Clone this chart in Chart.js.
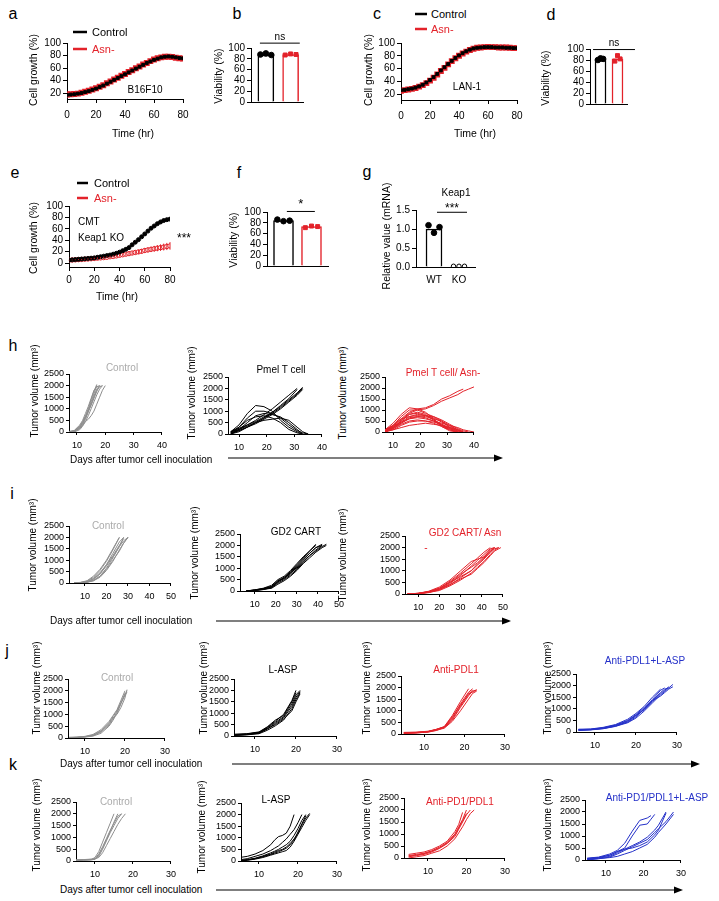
<!DOCTYPE html>
<html><head><meta charset="utf-8">
<script src="https://cdn.jsdelivr.net/npm/chart.js@4.4.1/dist/chart.umd.min.js"></script>
<style>
html,body{margin:0;padding:0;background:#fff;}
body{width:719px;height:901px;position:relative;overflow:hidden;font-family:"Liberation Sans",Arial,sans-serif;}
canvas{position:absolute;}
.t{position:absolute;white-space:nowrap;line-height:1;}
svg{position:absolute;left:0;top:0;}
</style></head><body>
<svg width="719" height="901" id="arr"></svg>
<script>
// ---------------- DATA ----------------
const hours = [0,2.5,5,7.5,10,12.5,15,17.5,20,22.5,25,27.5,30,32.5,35,37.5,40,42.5,45,47.5,50,52.5,55,57.5,60,62.5,65,67.5,70,72.5,75,77.5,80];
const growthA_ctrl = [17,17.5,18,19,20,21.5,23,25,27,29.5,32,35,38,41,44,47,50,53,56,59,62,65,68,70.5,73,75,77,78,78.5,78,77,76,75.5];
const growthA_asn  = [17.5,18,18.5,19,20.5,22,23.5,25.5,27.5,30,32.5,35.5,38.5,41.5,44.5,47.5,50.5,53.5,56.5,59.5,62.5,65.5,68,71,73.5,75.5,77,78,78,77.5,76.5,75.5,75];
const growthC_ctrl = [26,26.5,27.5,28.5,30,32,34.5,38,42,46.5,51.5,57,62,67,72,76.5,80.5,84,87,89.5,91.5,92.5,93,93.5,93.5,93.5,93,93,93,92.5,92.5,92,92];
const growthC_asn  = [25,26,27,28,29.5,31.5,34,37,41,45.5,50.5,56,61,66.5,71.5,76,80,83.5,86.5,89,91,92.5,93,93.5,94,93.5,93.5,93,93,93,92.5,92,92];
const growthE_ctrl = [5,5.5,6,6.5,7,7.5,8,8.5,9,10,11,12,13,14,15.5,17,19,21.5,24,27,32,36.5,41,46,51,56,61,65,69,72,74.5,76,77];
const growthE_asn  = [5,5.3,5.6,6,6.3,6.7,7,7.5,8,8.5,9,9.5,10,11,11.5,12.5,13.5,14.5,15.5,16.5,17.5,18.5,19.5,20.5,22,23,24,25,26,27,28,29,30];
const growthE_asnSD= [0.5,0.5,0.6,0.7,0.8,0.9,1,1.1,1.2,1.3,1.4,1.5,1.6,1.8,2,2.2,2.4,2.6,2.8,3,3.2,3.4,3.6,3.9,4.2,4.5,4.8,5.1,5.4,5.7,6,6.3,6.6];
const growthTicksX = [0,20,40,60,80];
const growthTicksY_ac = [20,40,60,80,100];
const growthTicksY_e = [0,20,40,60,80,100];

const groups = ['Control','Asn-'];
const viabB = [87, 88];   const viabB_ctrlDots = [88, 90, 87]; const viabB_asnDots = [87, 89, 88];
const viabD = [81, 82];   const viabD_ctrlDots = [80, 83, 82]; const viabD_asnDots = [78, 88, 82];
const viabF = [84, 73];   const viabF_ctrlDots = [86, 83, 84]; const viabF_asnDots = [71, 74, 73];
const viabTicks = [0,20,40,60,80,100];
const keapCats = ['WT','KO'];
const keap1 = [1.0, 0.01]; const keap1_wtDots = [1.1, 0.9, 1.05]; const keap1_koDots = [0.02, 0.02, 0.02];
const keapTicks = [0,0.5,1,1.5];
const jitter = [-0.22, 0, 0.22];
const volTicks = [0,500,1000,1500,2000,2500];
const dayTicks40 = [10,20,30,40];
const dayTicks50 = [10,20,30,40,50];
const dayTicks30 = [10,20,30];

// tumour growth, panel h
const hCtrlDays = [7,9,11,12,13,14,15,16,17,18,19,20];
const hCtrl = [
 [0,50,250,450,700,1000,1400,1750,2050],
 [0,30,200,400,650,950,1300,1650,2000],
 [20,60,300,500,800,1100,1450,1800,1950,2000],
 [0,20,150,300,550,850,1200,1550,1850,2000],
 [0,40,200,350,600,900,1200,1500,1800,1950,2000],
 [10,50,250,400,650,900,1150,1450,1750,2000],
 [0,0,100,250,450,700,1000,1300,1600,1850,2000],
 [0,30,150,300,450,550,700,900,1200,1500,1800,2000]];
const hPmelDays = [7,10,13,16,19,22,25,28,31,33,35];
const hPmel = [
 [100,250,400,550,750,950,1200,1500,1800,2050],
 [50,150,300,500,700,900,1150,1450,1750,2000],
 [100,200,350,500,700,950,1250,1550,1950],
 [0,150,300,450,650,850,1100,1400,1700,1950],
 [50,200,400,600,850,1100,1400,1700,2000],
 [100,400,900,1250,1200,1000,600,300,100,0],
 [50,300,700,1000,1000,900,700,400,150,50,0],
 [0,200,500,800,900,850,750,500,200,0],
 [100,300,600,750,800,700,500,200,50,0],
 [0,100,300,500,600,650,700,600,300,100,0]];
const hAsnDays = [7,10,13,16,19,22,25,28,31,34,36,38,40];
const hAsn = [
 [100,300,600,900,1050,1100,1250,1500,1650,1850,1950],
 [50,250,550,850,1000,1050,1200,1400,1550,1700,1850,1950,2050],
 [100,400,800,1100,1050,900,600,300,100,0],
 [50,300,700,1000,1000,850,700,500,200,50,0],
 [0,200,500,800,850,750,550,350,150,0],
 [100,300,600,700,750,700,600,500,300,100,0],
 [50,200,400,600,700,750,700,550,350,150,50,0],
 [0,150,350,500,550,500,400,250,100,0],
 [100,250,450,600,650,600,500,400,300,200,100,50,0],
 [0,100,300,450,500,500,450,350,200,50,0],
 [50,200,500,800,900,800,550,250,50,0],
 [0,150,400,650,700,650,500,300,150,50,0],
 [50,100,200,300,350,400,350,300,200,100,0],
 [0,200,450,700,800,750,650,450,250,100,0]];

// panel i
const iCtrlDays = [5,8,11,14,17,20,23,26,28,30];
const iCtrl = [
 [0,20,80,250,550,950,1450,2000],
 [0,30,100,300,600,1000,1500,2000],
 [0,10,50,150,400,800,1300,1800,2000],
 [0,10,40,120,300,650,1100,1600,1850,2000],
 [0,20,60,200,450,800,1200,1650,1950],
 [0,0,30,100,250,550,950,1450,1750,2000],
 [0,10,50,180,400,750,1150,1600,2000],
 [0,5,40,100,300,600,1000,1400,1750,2000]];
const iGdDays = [6,10,14,18,21,24,27,30,33,36,39,42,44];
const iGd = [
 [0,50,100,200,450,600,850,1150,1450,1750,2050],
 [0,30,80,150,400,550,800,1100,1400,1650,1900,2050],
 [0,50,120,250,500,650,900,1200,1500,1750,2000],
 [0,20,60,150,350,500,700,950,1250,1550,1800,2000],
 [0,40,100,200,400,600,800,1000,1300,1550,1750,1950,2050],
 [0,30,90,180,450,550,750,1050,1350,1650,1900,2000],
 [0,20,70,120,300,450,650,900,1200,1450,1700,1900,2000]];
const iAsnDays = [5,10,15,20,25,30,35,38,41,44,46,48,49];
const iAsn = [
 [0,30,100,250,550,900,1300,1550,1800,2000],
 [0,20,80,200,450,800,1200,1450,1700,1950,2000],
 [0,30,120,300,600,1000,1400,1500,1600,1900,2000],
 [0,10,60,180,400,700,1000,1300,1550,1800,2000],
 [0,20,90,220,500,850,1150,1350,1600,1850,1950,2000],
 [0,10,70,150,350,600,900,1150,1400,1700,1900,2000],
 [0,30,100,250,500,750,1000,1250,1500,1800,2000],
 [0,20,80,200,400,650,850,1100,1350,1650,1850,1950,2000]];

// panel j
const jCtrlDays = [6,8,10,12,14,16,17,18,19,20,20.5];
const jCtrl = [
 [20,30,50,100,250,550,800,1100,1500,1900],
 [10,20,40,80,200,500,750,1050,1450,1850,2000],
 [0,20,50,120,300,650,900,1150,1500,1800,1950],
 [30,40,60,110,280,600,850,1000,1300,1700,2050],
 [10,30,70,150,350,700,950,1200,1600,2000]];
const jLaspDays = [5,8,11,13,15,17,19,20,21];
const jLasp = [
 [50,80,150,350,600,850,1400,1800,2000],
 [30,60,120,300,550,800,1300,1700,1950],
 [80,100,180,400,700,900,1500,1900],
 [20,50,100,250,450,700,1200,1600,1900],
 [60,90,160,380,650,950,1550,2000],
 [40,70,140,320,500,750,1100,1500,1850]];
const jPdDays = [5,8,11,13,15,17,19,21,22,23];
const jPd = [
 [50,60,100,200,300,700,1300,1800,1950],
 [30,50,80,150,280,600,1150,1650,1850,1900],
 [70,80,120,200,320,800,1400,1950],
 [20,40,90,160,250,550,1000,1500,1750,1850],
 [60,70,110,190,310,750,1250,1700,1900],
 [40,60,100,180,290,650,1200,1750,1800,1900]];
const jComboDays = [6,9,12,15,18,20,22,24,26,27,28,29];
const jCombo = [
 [100,120,180,300,500,750,1050,1400,1800,1900],
 [80,100,150,250,450,700,1000,1350,1700,1850,1900],
 [120,130,200,320,550,800,1100,1500,1850],
 [60,90,140,240,400,600,900,1250,1600,1750,1900,2050],
 [90,110,170,280,480,720,950,1300,1650,1800,1950],
 [100,100,160,260,420,650,1000,1350,1550,1700,1850,1950]];

// panel k
const kCtrlDays = [5,7,9,10,11,12,13,14,15,16,17,18];
const kCtrl = [
 [30,50,60,150,400,800,1200,1600,2000],
 [50,60,80,100,300,600,950,1300,1600,1900,2000],
 [20,40,50,80,200,500,850,1200,1500,1800,2000],
 [40,50,70,90,150,350,650,950,1250,1550,1800,2000],
 [10,30,50,70,250,550,900,1250,1650,2000]];
const kLaspDays = [5,7,9,11,13,14,15,16,17,18,19,20,21,22,23];
const kLasp = [
 [150,200,300,450,700,900,1050,1100,1200,1500,2000],
 [50,100,200,300,450,550,650,800,950,1150,1350,1650,2000],
 [0,50,100,200,300,380,450,500,600,750,950,1200,1550,1850,2050],
 [20,60,120,220,350,420,500,600,700,850,1100,1400,1750,2000],
 [0,30,80,150,250,300,350,400,450,600,850,1150,1450,1750,2000],
 [10,40,100,180,280,340,400,470,550,700,900,1250,1600,1950]];
const kPdDays = [5,7,9,11,13,15,17,18,19,20,21,22];
const kPd = [
 [100,150,200,300,450,650,1000,1300,1600,2000],
 [50,100,150,250,400,600,900,1200,1500,1800,2000],
 [150,200,250,350,500,700,1100,1400,1900],
 [0,50,100,200,300,500,800,1050,1300,1600,1850,2000],
 [80,120,180,280,420,620,950,1250,1550,1850]];
const kComboDays = [5,8,11,13,15,17,19,21,22,23,24,26,28];
const kCombo = [
 [50,100,200,350,500,1000,1450,1500,1700,1900],
 [80,120,250,400,700,1200,1650,1750,1850],
 [30,80,150,300,450,600,750,950,1100,1250,1450,2000],
 [0,50,120,250,400,550,700,850,1000,1150,1300,1600,2000],
 [60,100,200,350,450,500,600,750,900,1050,1250,1950],
 [20,60,100,150,250,350,500,650,800,950,1150,1500,1900]];

// ---------------- HELPERS ----------------
const FONT = '"Liberation Sans", Arial, Helvetica, sans-serif';
Chart.defaults.font.family = FONT;
Chart.defaults.color = '#000';
const RED = '#e3222a', BLUE = '#2430c8', GRAY = '#8e8e8e', GRAYT = '#ababab';
const extras = new Map();

Chart.register({id:'extraDraw', afterDatasetsDraw(ch){
  const e = extras.get(ch.canvas); if(!e) return;
  const ctx = ch.ctx, xs = ch.scales.x, ys = ch.scales.y;
  ctx.save();
  if(e.err){
    ctx.strokeStyle = e.err.color; ctx.lineWidth = 1;
    e.err.x.forEach((xv,i)=>{
      const px = xs.getPixelForValue(xv);
      ctx.beginPath(); ctx.moveTo(px, ys.getPixelForValue(e.err.y[i]-e.err.sd[i])); ctx.lineTo(px, ys.getPixelForValue(e.err.y[i]+e.err.sd[i])); ctx.stroke();
    });
  }
  if(e.sig){
    const s = e.sig, y = ys.getPixelForValue(s.y), a = xs.getPixelForValue(s.x0), b = xs.getPixelForValue(s.x1);
    ctx.strokeStyle = '#000'; ctx.lineWidth = 1;
    ctx.beginPath(); ctx.moveTo(a, y); ctx.lineTo(b, y); ctx.stroke();
    ctx.fillStyle = '#000'; ctx.font = s.size + 'px ' + FONT; ctx.textAlign = 'center'; ctx.textBaseline = 'bottom';
    ctx.fillText(s.text, (a+b)/2, y - (s.gap||1));
  }
  ctx.restore();
}});

function pts(xs, ys){ const o=[]; for(let i=0;i<ys.length;i++){ if(ys[i]!=null) o.push({x:xs[i], y:ys[i]}); } return o; }

function ax(min,max,at,o){
  o = o||{};
  const a = {type:'linear', min, max, offset:false,
    border:{display:true,color:'#000',width:1},
    grid:{display:!o.noTicks, drawOnChartArea:false, drawTicks:true, tickLength:o.tl||3, color:'#000', lineWidth:1},
    ticks:{display:!o.noLabels, font:{size:o.fs||9}, color:'#000', padding:(o.pad!=null?o.pad:2), autoSkip:false, maxRotation:0, minRotation:0,
      callback: o.cb || ((v)=>String(v))},
    afterBuildTicks:s=>{ s.ticks = at.map(v=>({value:v})); }};
  return a;
}

function mk(rect, m, type, datasets, sx, sy, extra){
  const [x0,y0,x1,y1] = rect;
  const c = document.createElement('canvas');
  const w = x1-x0+m.l+m.r, h = y1-y0+m.t+m.b;
  c.width = w; c.height = h;
  Object.assign(c.style,{left:(x0-m.l)+'px', top:(y0-m.t)+'px', width:w+'px', height:h+'px'});
  document.body.appendChild(c);
  if(extra) extras.set(c, extra);
  sx.position='bottom'; sy.position='left';
  sx.afterFit = s=>{ s.height = m.b; };
  sy.afterFit = s=>{ s.width = m.l; };
  return new Chart(c, {type, data:{datasets}, options:{responsive:false, maintainAspectRatio:false, animation:false, devicePixelRatio:1,
    layout:{padding:{left:0, top:m.t, right:m.r, bottom:0}}, scales:{x:sx, y:sy},
    plugins:{legend:{display:false}, tooltip:{enabled:false}}}});
}

function txt(s,x,y,size,color,rot,anchor,extraCss){
  const d = document.createElement('div'); d.className='t'; d.textContent = s;
  d.style.fontSize = size+'px'; d.style.color = color||'#000';
  d.style.left = x+'px'; d.style.top = y+'px';
  let tr = anchor==='l' ? 'translate(0,-50%)' : 'translate(-50%,-50%)';
  if(rot) tr += ' rotate(-90deg)';
  d.style.transform = tr;
  if(extraCss) d.style.cssText += extraCss;
  document.body.appendChild(d);
}
const svg = document.getElementById('arr');
function arrow(x0,x1,y){ svg.insertAdjacentHTML('beforeend', `<line x1="${x0}" y1="${y}" x2="${x1-6}" y2="${y}" stroke="#000" stroke-width="1.2"/><polygon points="${x1},${y} ${x1-9},${y-3.5} ${x1-9},${y+3.5}" fill="#000"/>`); }
function legLine(x0,x1,y,color){ svg.insertAdjacentHTML('beforeend', `<line x1="${x0}" y1="${y}" x2="${x1}" y2="${y}" stroke="${color}" stroke-width="2.5"/>`); }

// ---------------- GROWTH CURVES ----------------
function growth(rect, ymin, ctrl, asn, style, yTicks){
  const ds = [];
  if(style==='e'){
    ds.push({type:'line', data:pts(hours,ctrl), borderColor:'#000', borderWidth:1, pointRadius:2, pointStyle:'circle', pointBackgroundColor:'#000', pointBorderColor:'#000', order:1});
    ds.push({type:'line', data:pts(hours,asn), borderColor:RED, borderWidth:1, pointRadius:2.2, pointStyle:'circle', pointBackgroundColor:'#fff', pointBorderColor:RED, pointBorderWidth:1, order:2});
  } else {
    ds.push({type:'line', data:pts(hours,ctrl), borderColor:'#000', borderWidth:1, pointRadius:2, pointStyle:'rect', pointBackgroundColor:'#000', pointBorderColor:'#000', order:1});
    ds.push({type:'line', data:pts(hours,asn), borderColor:RED, borderWidth:2.2, pointRadius:2.6, pointStyle:'rect', pointBackgroundColor:RED, pointBorderColor:RED, order:2});
  }
  const extra = style==='e' ? {err:{x:hours, y:asn, sd:growthE_asnSD, color:RED}} : null;
  return mk(rect, {l:40,t:10,r:12,b:30}, 'line', ds,
    ax(0,80,growthTicksX,{fs:10,tl:4,pad:style==='e'?3:6}), ax(ymin,100,yTicks,{fs:10,tl:4}), extra);
}
growth([67,43,183,99], 10.4, growthA_ctrl, growthA_asn, 'a', growthTicksY_ac);
growth([401,43,517,100], 10.6, growthC_ctrl, growthC_asn, 'c', growthTicksY_ac);
growth([69,206,170,267], -7, growthE_ctrl, growthE_asn, 'e', growthTicksY_e);

// ---------------- BARS ----------------
function bars(rect, xmin, xmax, ymax, yTicks, vals, d0, d1, thick, sig, o){
  o = o||{};
  const ds = [
    {type:'bar', data:[{x:0,y:vals[0]},{x:1,y:vals[1]}], backgroundColor:'#fff', borderColor:o.barColors||['#000',RED], borderWidth:1.5, barThickness:thick, order:3},
    {type:'scatter', data:d0.map((v,i)=>({x:jitter[i]*(o.jit||1), y:v})), pointRadius:2.8, pointStyle:'circle', backgroundColor:o.dot0||'#000', borderColor:'#000', borderWidth:1, order:1},
    {type:'scatter', data:d1.map((v,i)=>({x:1+jitter[i]*(o.jit||1), y:v})), pointRadius:o.r1||2.8, pointStyle:o.style1||'rect', backgroundColor:o.dot1||RED, borderColor:o.dot1b||RED, borderWidth:1, order:1}];
  const sx = ax(xmin,xmax,[0,1],{noTicks:true, noLabels:!o.xlabels, fs:10, pad:4, cb:o.xlabels?((v,i)=>o.xlabels[i]):null});
  const sy = ax(0,ymax,yTicks,{fs:10,tl:4, cb:o.ycb});
  return mk(rect, {l:40,t:24,r:16,b:o.xlabels?18:6}, 'bar', ds, sx, sy, {sig});
}
bars([251,48,303,104], -0.6, 1.5, 100, viabTicks, viabB, viabB_ctrlDots, viabB_asnDots, 16, {x0:-0.24,x1:1.37,y:109,text:'ns',size:10,gap:1});
bars([590,49,627,106], -0.62, 1.56, 100, viabTicks, viabD, viabD_ctrlDots, viabD_asnDots, 11, {x0:-0.44,x1:2.03,y:99,text:'ns',size:10,gap:1}, {jit:0.7});
bars([267,212,328,268], -0.59, 1.59, 100, viabTicks, viabF, viabF_ctrlDots, viabF_asnDots, 20, {x0:0.12,x1:1.12,y:101,text:'*',size:13,gap:0});
bars([416,210,475,267], -0.72, 1.64, 1.5, keapTicks, keap1, keap1_wtDots, keap1_koDots, 16, {x0:0.12,x1:1.32,y:1.44,text:'***',size:12,gap:-2},
  {xlabels:keapCats, barColors:['#000','#000'], dot1:'#fff', dot1b:'#000', style1:'circle', r1:2.2, ycb:(v)=>Number(v).toFixed(1)});

// ---------------- TUMOUR PANELS ----------------
function tumor(rect, xmin, xmax, xTicks, days, curves, color, lw){
  const ds = curves.map(v=>({type:'line', data:pts(days,v), borderColor:color, borderWidth:lw||1, pointRadius:0, fill:false}));
  return mk(rect, {l:36,t:8,r:10,b:22}, 'line', ds, ax(xmin,xmax,xTicks,{fs:9,tl:3,pad:5}), ax(0,2500,volTicks,{fs:9,tl:3}));
}
tumor([69,374,162,432], 7.2, 40, dayTicks40, hCtrlDays, hCtrl, GRAY);
tumor([228,377,322,434], 6.0, 40, dayTicks40, hPmelDays, hPmel, '#000');
tumor([385,377,474,432], 7.0, 40, dayTicks40, hAsnDays, hAsn, RED);
tumor([69,526,171,583], 2.6, 50, dayTicks50, iCtrlDays, iCtrl, GRAY);
tumor([240,534,339,591], 3.0, 50, dayTicks50, iGdDays, iGd, '#000');
tumor([405,536,503,594], 3.8, 50, dayTicks50, iAsnDays, iAsn, RED);
tumor([68,679,165,738], 5.75, 30, dayTicks30, jCtrlDays, jCtrl, GRAY);
tumor([234,679,337,736], 4.9, 30, dayTicks30, jLaspDays, jLasp, '#000');
tumor([401,676,505,734], 4.3, 30, dayTicks30, jPdDays, jPd, RED);
tumor([576,674,677,732], 5.4, 30, dayTicks30, jComboDays, jCombo, BLUE);
tumor([76,802,171,861], 5.0, 30, dayTicks30, kCtrlDays, kCtrl, GRAY);
tumor([241,803,337,861], 5.4, 30, dayTicks30, kLaspDays, kLasp, '#000');
tumor([404,798,505,858], 3.8, 30, dayTicks30, kPdDays, kPd, RED);
tumor([585,800,681,860], 4.4, 30, dayTicks30, kComboDays, kCombo, BLUE);

// ---------------- TEXT ----------------
const L15 = 16;
txt('a',13,14,L15); txt('b',237,14,L15); txt('c',377,14,L15); txt('d',551,15,L15);
txt('e',15,173,L15); txt('f',239,173,L15); txt('g',367,172,L15);
txt('h',13,346,L15); txt('i',12,494,L15); txt('j',7,651,L15); txt('k',13,765,L15);

legLine(73,87,32,'#000'); txt('Control',92,32,11,'#000',false,'l');
legLine(73,87,49,RED); txt('Asn-',92,49,11,RED,false,'l');
legLine(415,427,14,'#000'); txt('Control',431,14,11,'#000',false,'l');
legLine(415,427,29,RED); txt('Asn-',431,29,11,RED,false,'l');
legLine(77,88,183,'#000'); txt('Control',94,183,11,'#000',false,'l');
legLine(77,88,198,RED); txt('Asn-',94,198,11,RED,false,'l');

txt('B16F10',145,90,10); txt('LAN-1',467,87,10);
txt('CMT',78,222,10,'#000',false,'l'); txt('Keap1 KO',78,238,10,'#000',false,'l');
txt('***',184,238,12);
txt('Keap1',456,193,10);

txt('Cell growth (%)',33,70,10.5,'#000',true);
txt('Cell growth (%)',368,70,10.5,'#000',true);
txt('Cell growth (%)',33,238,10.5,'#000',true);
txt('Viability (%)',218,76,10.5,'#000',true);
txt('Viability (%)',545,78,10.5,'#000',true);
txt('Viability (%)',233,240,10.5,'#000',true);
txt('Relative value (mRNA)',386,236,10.5,'#000',true);
txt('Time  (hr)',133,133,10.5); txt('Time  (hr)',475,133,10.5); txt('Time  (hr)',117,296,10.5);

const TV = 'Tumor volume (mm³)';
[[35,391],[192,393],[343,393],[33,545],[195,553],[343,555],[37,688],[204,688],[367,688],[548,688],[37,825],[202,827],[367,825],[548,825]]
  .forEach(p=>txt(TV,p[0],p[1],10,'#000',true));

txt('Control',122,368,10,GRAYT); txt('Pmel T cell',281,370,10); txt('Pmel T cell/ Asn-',443,373,10,RED);
txt('Control',108,526,10,GRAYT); txt('GD2 CART',296,532,10); txt('GD2 CART/ Asn',465,533,10,RED); txt('-',426,548,10,RED);
txt('Control',117,678,10,GRAYT); txt('L-ASP',283,670,10); txt('Anti-PDL1',456,670,10,RED); txt('Anti-PDL1+L-ASP',645,661,10,BLUE);
txt('Control',116,802,10,GRAYT); txt('L-ASP',276,800,10); txt('Anti-PD1/PDL1',460,802,10,RED); txt('Anti-PD1/PDL1+L-ASP',657,798,10,BLUE);

const DA = 'Days after tumor cell inoculation';
txt(DA,70,460,10,'#000',false,'l'); arrow(228,503,458);
txt(DA,50,621,10,'#000',false,'l'); arrow(216,511,621);
txt(DA,60,764,10,'#000',false,'l'); arrow(232,700,764);
txt(DA,60,890,10,'#000',false,'l'); arrow(216,683,890);
</script></body></html>
